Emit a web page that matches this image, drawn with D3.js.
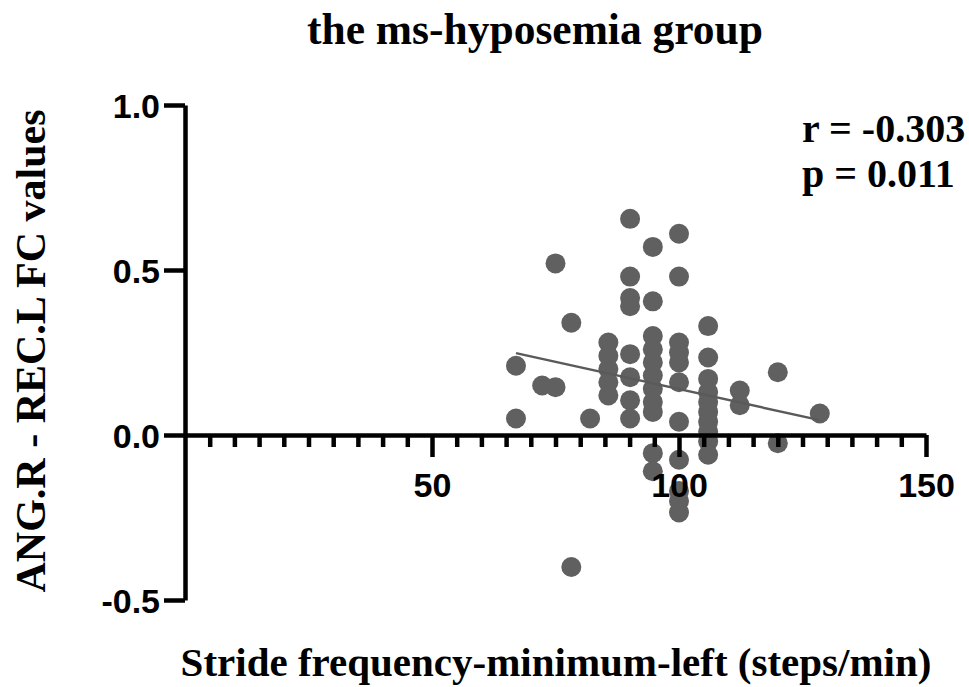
<!DOCTYPE html>
<html>
<head>
<meta charset="utf-8">
<script src="https://cdn.jsdelivr.net/npm/d3@7"></script>
<style>
  html, body { margin: 0; padding: 0; background: #fff; }
  svg { display: block; }
</style>
</head>
<body>
<svg id="chart" width="969" height="687"></svg>
<script>
// ---- data ----
const titleText = "the ms-hyposemia group";
const xLabel = "Stride frequency-minimum-left (steps/min)";
const yLabel = "ANG.R - REC.L FC values";
const statLines = ["r = -0.303", "p = 0.011"];

const xValues = [
  67, 67,
  72.3,
  75, 75,
  78.2, 78.2,
  82,
  85.7, 85.7, 85.7, 85.7, 85.7,
  90.1, 90.1, 90.1, 90.1, 90.1, 90.1, 90.1, 90.1,
  94.7, 94.7, 94.7, 94.7, 94.7, 94.7, 94.7, 94.7, 94.7, 94.7, 94.7,
  100, 100, 100, 100, 100, 100, 100, 100, 100, 100, 100,
  105.9, 105.9, 105.9, 105.9, 105.9, 105.9, 105.9, 105.9, 105.9, 105.9,
  112.3, 112.3,
  120, 120,
  128.5
];
const yValues = [
  0.21, 0.05,
  0.15,
  0.145, 0.52,
  0.34, -0.40,
  0.05,
  0.28, 0.24, 0.20, 0.16, 0.12,
  0.655, 0.48, 0.415, 0.39, 0.245, 0.175, 0.105, 0.05,
  0.57, 0.405, 0.30, 0.26, 0.22, 0.18, 0.14, 0.10, 0.07, -0.055, -0.11,
  0.61, 0.48, 0.28, 0.25, 0.22, 0.16, 0.04, -0.075, -0.17, -0.20, -0.235,
  0.33, 0.235, 0.17, 0.13, 0.10, 0.07, 0.04, 0.01, -0.02, -0.06,
  0.135, 0.09,
  0.19, -0.025,
  0.065
];
// fitted regression line endpoints
const fitX = [67, 128.5];
const fitY = [0.248, 0.045];

const xMajorTicks = [50, 100, 150];
const xMinorTicks = [5,10,15,20,25,30,35,40,45,55,60,65,70,75,80,85,90,95,105,110,115,120,125,130,135,140,145];
const yTicks = [-0.5, 0.0, 0.5, 1.0];

// ---- layout ----
const svg = d3.select("#chart");
const x = d3.scaleLinear().domain([0, 150]).range([185, 926]);
const y = d3.scaleLinear().domain([-0.5, 1.0]).range([600, 105]);

const serif = "'Liberation Serif','Times New Roman',serif";
const sans = "'Liberation Sans',Arial,sans-serif";
const pointColor = "#606060";

// points
svg.append("g").selectAll("circle")
  .data(xValues.map((v, i) => [v, yValues[i]]))
  .join("circle")
  .attr("cx", d => x(d[0]))
  .attr("cy", d => y(d[1]))
  .attr("r", 10)
  .attr("fill", pointColor);

// regression line
svg.append("path")
  .datum(fitX.map((v, i) => [v, fitY[i]]))
  .attr("d", d3.line().x(d => x(d[0])).y(d => y(d[1])))
  .attr("stroke", "#5a5a5a")
  .attr("stroke-width", 2.4)
  .attr("fill", "none");

const fmt = d => d3.format(".1f")(d).replace("\u2212", "-");

// y axis
const yAxis = svg.append("g")
  .attr("transform", `translate(${x(0)},0)`)
  .call(d3.axisLeft(y).tickValues(yTicks).tickFormat(fmt).tickSize(21).tickSizeOuter(0).tickPadding(6));
yAxis.select(".domain").attr("stroke", "#000").attr("stroke-width", 4.5);
yAxis.selectAll(".tick line").attr("stroke", "#000").attr("stroke-width", 4.5);
yAxis.selectAll(".tick text")
  .attr("font-family", sans).attr("font-weight", "bold").attr("font-size", 34).attr("fill", "#000")
  .attr("dy", "0.36em").attr("x", -25);

// x axis minor
const xMinor = svg.append("g")
  .attr("transform", `translate(0,${y(0)})`)
  .call(d3.axisBottom(x).tickValues(xMinorTicks).tickSize(12).tickSizeOuter(0).tickFormat(""));
xMinor.select(".domain").attr("stroke", "#000").attr("stroke-width", 4.5);
xMinor.selectAll(".tick line").attr("stroke", "#000").attr("stroke-width", 4.5);

// x axis major
const xMajor = svg.append("g")
  .attr("transform", `translate(0,${y(0)})`)
  .call(d3.axisBottom(x).tickValues(xMajorTicks).tickSize(22).tickSizeOuter(0));
xMajor.select(".domain").remove();
xMajor.selectAll(".tick line").attr("stroke", "#000").attr("stroke-width", 4.5);
xMajor.selectAll(".tick text")
  .attr("font-family", sans).attr("font-weight", "bold").attr("font-size", 34).attr("fill", "#000")
  .attr("y", 62).attr("dy", 0);

// title
svg.append("text")
  .attr("x", 535).attr("y", 44)
  .attr("text-anchor", "middle")
  .attr("font-family", serif).attr("font-weight", "bold").attr("font-size", 43.5)
  .text(titleText);

// x label
svg.append("text")
  .attr("x", 556).attr("y", 676)
  .attr("text-anchor", "middle")
  .attr("font-family", serif).attr("font-weight", "bold").attr("font-size", 41)
  .text(xLabel);

// y label
svg.append("text")
  .attr("transform", "translate(45,351) rotate(-90)")
  .attr("text-anchor", "middle")
  .attr("font-family", serif).attr("font-weight", "bold").attr("font-size", 42)
  .text(yLabel);

// stats
svg.append("g").selectAll("text")
  .data(statLines)
  .join("text")
  .attr("x", 802)
  .attr("y", (d, i) => 142 + i * 45)
  .attr("font-family", serif).attr("font-weight", "bold").attr("font-size", 40)
  .text(d => d);
</script>
</body>
</html>
